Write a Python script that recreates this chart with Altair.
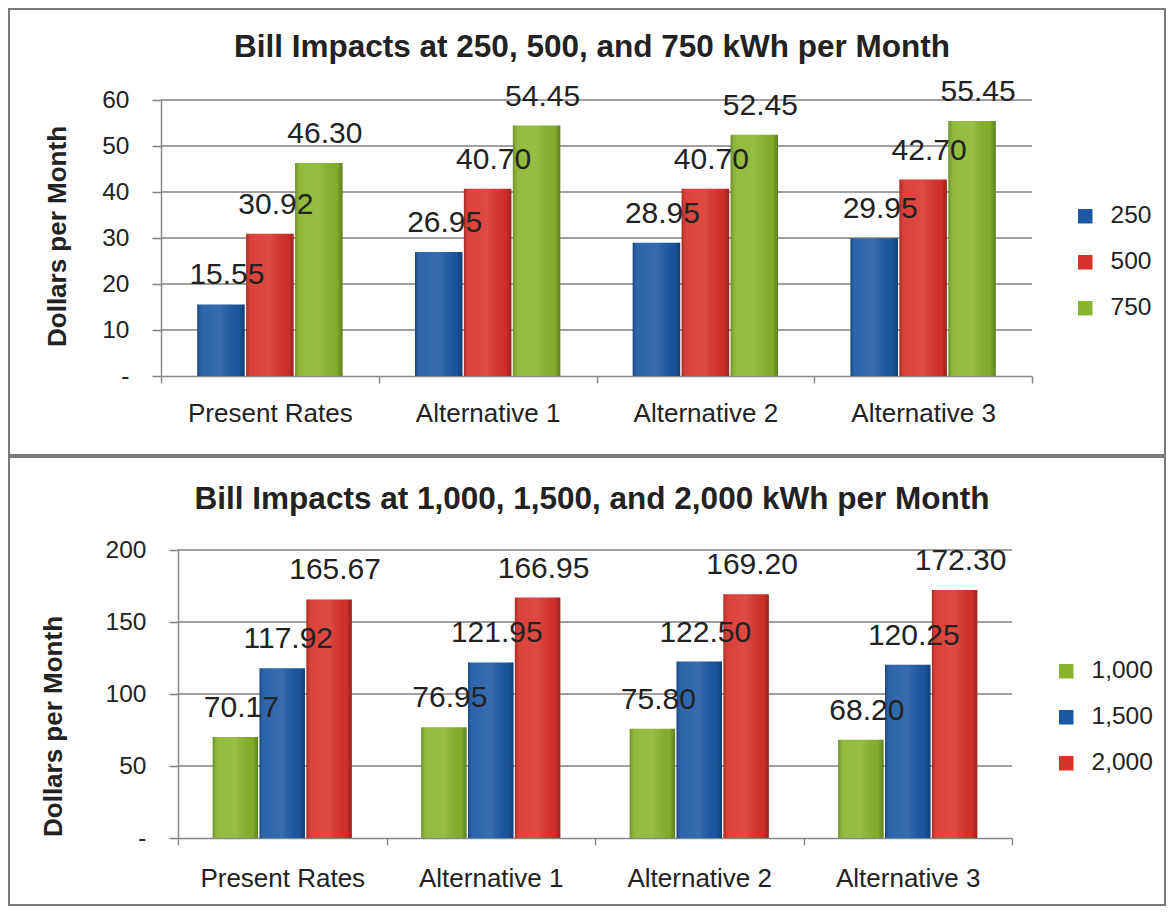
import altair as alt
import pandas as pd

FONT = "Liberation Sans"

categories = ["Present Rates", "Alternative 1", "Alternative 2", "Alternative 3"]
y_title = "Dollars per Month"

top_title = "Bill Impacts at 250, 500, and 750 kWh per Month"
top_series = ["250", "500", "750"]
top_250 = [15.55, 26.95, 28.95, 29.95]
top_500 = [30.92, 40.70, 40.70, 42.70]
top_750 = [46.30, 54.45, 52.45, 55.45]
top_colors = ["#1c58a4", "#d9322a", "#88b52e"]
top_ticks = [0, 10, 20, 30, 40, 50, 60]

bot_title = "Bill Impacts at 1,000, 1,500, and 2,000 kWh per Month"
bot_series = ["1,000", "1,500", "2,000"]
bot_1000 = [70.17, 76.95, 75.80, 68.20]
bot_1500 = [117.92, 121.95, 122.50, 120.25]
bot_2000 = [165.67, 166.95, 169.20, 172.30]
bot_colors = ["#88b52e", "#1c58a4", "#d9322a"]
bot_ticks = [0, 50, 100, 150, 200]


def make_df(series, values):
    rows = []
    for s, vals in zip(series, values):
        for c, v in zip(categories, vals):
            rows.append({"category": c, "series": s, "value": v, "label": f"{v:.2f}"})
    return pd.DataFrame(rows)


def panel(df, series, colors, ticks, title, W, H, shift, leg, box, ttl, ytx, yty, xlabpad):
    ymax = ticks[-1]
    x = alt.X("category:N", sort=categories, title=None,
              scale=alt.Scale(domain=categories, paddingInner=0, paddingOuter=0,
                              range=[-shift, W]),
              axis=alt.Axis(labelAngle=0, labelFontSize=26, labelFont=FONT, labelColor="#222",
                            labelPadding=xlabpad, tickBand="extent", tickSize=7, tickColor="#888",
                            tickWidth=1.5, domainColor="#888", domainWidth=1.5, grid=False))
    xo = alt.XOffset("series:N", sort=series,
                     scale=alt.Scale(domain=series, paddingInner=0.03, paddingOuter=0.74))
    y = alt.Y("value:Q", title=y_title, scale=alt.Scale(domain=[0, ymax], nice=False),
              axis=alt.Axis(values=ticks, offset=shift,
                            labelExpr="datum.value == 0 ? '-' : datum.label",
                            labelFontSize=24.5, labelFont=FONT, labelColor="#222", labelPadding=23,
                            grid=False,
                            tickSize=9, tickColor="#808080", tickWidth=1.5,
                            domainColor="#8a8a8a", domainWidth=1.5,
                            titleFont=FONT, titleFontSize=26, titleFontWeight="bold", titleColor="#222",
                            titleAngle=-90, titleX=ytx, titleY=yty, titleBaseline="middle",
                            titleAlign="center"))

    grid_df = pd.DataFrame({"value": ticks[1:]})
    grid = alt.Chart(grid_df).mark_rule(color="#808080", strokeWidth=1.5).encode(
        x=alt.value(-shift), x2=alt.value(W), y=y)

    base = alt.Chart(df)
    bars = base.mark_bar().encode(
        x=x, xOffset=xo, y=y,
        color=alt.Color("series:N", sort=series,
                        scale=alt.Scale(domain=series, range=colors),
                        legend=alt.Legend(title=None, orient="none", legendX=leg[0], legendY=leg[1],
                                          symbolType="square", symbolSize=210, symbolStrokeWidth=0,
                                          labelFontSize=24.5, labelFont=FONT, labelColor="#222",
                                          labelOffset=13, rowPadding=21, padding=0)),
    )
    shade = base.mark_bar(color=alt.Gradient(
        gradient="linear", x1=0, x2=1, y1=0, y2=0,
        stops=[alt.GradientStop(offset=0, color="rgba(0,0,0,0.22)"),
               alt.GradientStop(offset=0.12, color="rgba(255,255,255,0.08)"),
               alt.GradientStop(offset=0.5, color="rgba(255,255,255,0.12)"),
               alt.GradientStop(offset=0.88, color="rgba(0,0,0,0.05)"),
               alt.GradientStop(offset=1, color="rgba(0,0,0,0.3)")])).encode(
        x=x, xOffset=xo, y=y)
    labels = base.mark_text(fontSize=30, font=FONT, color="#222", baseline="alphabetic",
                            align="center", dx=6, dy=-20).encode(
        x=x, xOffset=xo, y=y, text="label:N")

    one = pd.DataFrame({"a": [0]})
    border = alt.Chart(one).mark_rect(fillOpacity=0, stroke="#7a7a7a", strokeWidth=2).encode(
        x=alt.value(box[0]), x2=alt.value(box[1]), y=alt.value(box[2]), y2=alt.value(box[3]))
    tmark = alt.Chart(one).mark_text(text=title, fontSize=31.5, font=FONT, fontWeight="bold",
                                     color="#222", align="center", baseline="middle").encode(
        x=alt.value(ttl[0]), y=alt.value(ttl[1]))

    return alt.layer(border, grid, bars, shade, labels, tmark).properties(
        width=W, height=H, view=alt.ViewBackground(strokeOpacity=0, strokeWidth=0))


top_df = make_df(top_series, [top_250, top_500, top_750])
bot_df = make_df(bot_series, [bot_1000, bot_1500, bot_2000])

# both panels share the same plot origin (page x = 178); the top panel's axis sits 17px further left
top = panel(top_df, top_series, top_colors, top_ticks, top_title, 854, 276, 17,
            leg=(895, 104), box=(-169, 987, -91, 355), ttl=(414, -52),
            ytx=-104, yty=136, xlabpad=17)
bot = panel(bot_df, bot_series, bot_colors, bot_ticks, bot_title, 834, 288, 0,
            leg=(876, 109), box=(-169, 987, -93, 355), ttl=(414, -50),
            ytx=-125, yty=176, xlabpad=20)

chart = alt.vconcat(top, bot, spacing=0).resolve_scale(
    color="independent", x="independent", y="independent", xOffset="independent"
).resolve_legend(color="independent").properties(padding=0).configure_view(
    strokeWidth=0, strokeOpacity=0).configure(background="white")

chart.save("out.html", embed_options={"renderer": "svg", "actions": False})
